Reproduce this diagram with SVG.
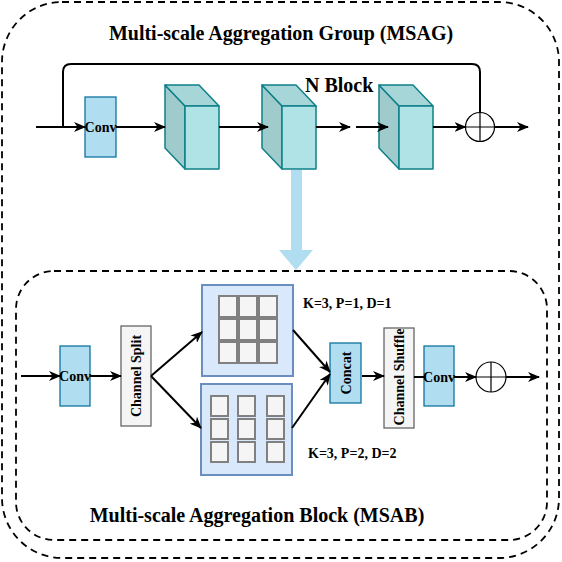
<svg xmlns="http://www.w3.org/2000/svg" width="562" height="562" viewBox="0 0 562 562">
<style>
text{font-family:"Liberation Serif","Times New Roman",serif;font-weight:bold;fill:#000}
.frame{fill:none;stroke:#000;stroke-width:1.8;stroke-dasharray:7 5}
.conv{fill:#b1ddf0;stroke:#10739e;stroke-width:1.3}
.grey{fill:#f5f5f5;stroke:#666;stroke-width:1.3}
.kbox{fill:#dae8fc;stroke:#6c8ebf;stroke-width:2}
.cell{fill:#f5f5f5;stroke:#808080;stroke-width:2}
.front{fill:#b0e3e6;stroke:#0e8088;stroke-width:1.5;stroke-linejoin:round}
.side{fill:#9fcbcd;stroke:#0e8088;stroke-width:1.5;stroke-linejoin:round}
.top{fill:#a7d6d9;stroke:#0e8088;stroke-width:1.5;stroke-linejoin:round}
.ln{fill:none;stroke:#000;stroke-width:2}
.arrow{fill:none;stroke:#000;stroke-width:2;marker-end:url(#arr)}
.sum{fill:#fff;stroke:#000;stroke-width:1.2}
</style>
<defs>
<marker id="arr" viewBox="0 0 12 10" refX="11" refY="5" markerWidth="12" markerHeight="10" markerUnits="userSpaceOnUse" orient="auto">
<path d="M0,0 L12,5 L0,10 L3.5,5 z" fill="#000"/>
</marker>
<g id="cube">
<polygon class="side" points="0,0 20,21 20,84 0,63"/>
<polygon class="top" points="0,0 34,0 54,21 20,21"/>
<rect class="front" x="20" y="21" width="34" height="63"/>
</g>
</defs>

<g id="frames">
<rect class="frame" x="2" y="2" width="557" height="556" rx="60" ry="60"/>
<rect class="frame" x="16" y="271" width="531" height="269" rx="38" ry="38"/>
</g>

<g id="titles">
<text x="281" y="40" font-size="20" text-anchor="middle">Multi-scale Aggregation Group (MSAG)</text>
<text x="257" y="522" font-size="20" text-anchor="middle">Multi-scale Aggregation Block (MSAB)</text>
<text x="305" y="92" font-size="20">N Block</text>
<text x="303" y="308" font-size="14">K=3, P=1, D=1</text>
<text x="308" y="458" font-size="14">K=3, P=2, D=2</text>
</g>

<g id="bigarrow">
<polygon points="291,170 302,170 302,250 313,250 296,270 279,250 291,250" fill="#b1ddf0"/>
</g>

<g id="conv1"><rect class="conv" x="85" y="97" width="31" height="60"/><text x="100.5" y="132" font-size="14" text-anchor="middle">Conv</text></g>
<g id="cube1"><use href="#cube" x="165" y="85"/></g>
<g id="cube2"><use href="#cube" x="262" y="85"/></g>
<g id="cube3"><use href="#cube" x="379" y="85"/></g>
<g id="sum1"><circle class="sum" cx="480" cy="127" r="14.5"/><path d="M465.5,127 H494.5 M480,112.5 V141.5" stroke="#000" stroke-width="1.2"/></g>

<g id="conv2"><rect class="conv" x="60" y="346" width="30" height="60"/><text x="75" y="381" font-size="14" text-anchor="middle">Conv</text></g>
<g id="split"><rect class="grey" x="121" y="326" width="30" height="100"/><text x="0" y="5" font-size="14" text-anchor="middle" transform="translate(136,376) rotate(-90)">Channel Split</text></g>

<g id="kernel1">
<rect class="kbox" x="202" y="285" width="91" height="91"/>
<rect class="cell" x="219" y="296" width="18" height="21"/><rect class="cell" x="239" y="296" width="18" height="21"/><rect class="cell" x="259" y="296" width="18" height="21"/>
<rect class="cell" x="219" y="319" width="18" height="21"/><rect class="cell" x="239" y="319" width="18" height="21"/><rect class="cell" x="259" y="319" width="18" height="21"/>
<rect class="cell" x="219" y="342" width="18" height="21"/><rect class="cell" x="239" y="342" width="18" height="21"/><rect class="cell" x="259" y="342" width="18" height="21"/>
</g>
<g id="kernel2">
<rect class="kbox" x="201" y="384" width="91" height="91"/>
<rect class="cell" x="211" y="396" width="17" height="20"/><rect class="cell" x="238" y="396" width="17" height="20"/><rect class="cell" x="267" y="396" width="17" height="20"/>
<rect class="cell" x="211" y="419" width="17" height="20"/><rect class="cell" x="238" y="419" width="17" height="20"/><rect class="cell" x="267" y="419" width="17" height="20"/>
<rect class="cell" x="211" y="442" width="17" height="20"/><rect class="cell" x="238" y="442" width="17" height="20"/><rect class="cell" x="267" y="442" width="17" height="20"/>
</g>

<g id="concat"><rect class="conv" x="330" y="343" width="31" height="60"/><text x="0" y="5" font-size="14" text-anchor="middle" transform="translate(345.5,373) rotate(-90)">Concat</text></g>
<g id="shuffle"><rect class="grey" x="384" y="328" width="30" height="100"/><text x="0" y="5" font-size="14" text-anchor="middle" transform="translate(399,377) rotate(-90)">Channel Shuffle</text></g>
<g id="conv3"><rect class="conv" x="424" y="346" width="30" height="60"/><text x="439" y="382" font-size="14" text-anchor="middle">Conv</text></g>
<g id="sum2"><circle class="sum" cx="491" cy="377" r="15"/><path d="M476,377 H506 M491,362 V392" stroke="#000" stroke-width="1.2"/></g>

<g id="connectors">
<path class="ln" d="M63,127 V72 Q63,64 71,64 H472 Q480,64 480,72 V112.5"/>
<path class="arrow" d="M36,127 H85"/>
<path class="arrow" d="M116,127 H165"/>
<path class="arrow" d="M219,127 H268"/>
<path class="arrow" d="M316,127 H350"/>
<path class="arrow" d="M356,127 H388"/>
<path class="arrow" d="M433,127 H465.5"/>
<path class="arrow" d="M494.5,127 H528"/>
<path class="arrow" d="M21,376 H60"/>
<path class="arrow" d="M90,376 H121"/>
<path class="arrow" d="M151,376 L202,332"/>
<path class="arrow" d="M151,376 L201,428"/>
<path class="arrow" d="M293,330 L330,372"/>
<path class="arrow" d="M292,428 L330,374"/>
<path class="arrow" d="M362,376 H384"/>
<path class="ln" d="M414,377 H424"/>
<path class="arrow" d="M454,377 H476"/>
<path class="arrow" d="M506,377 H539"/>
</g>
</svg>
